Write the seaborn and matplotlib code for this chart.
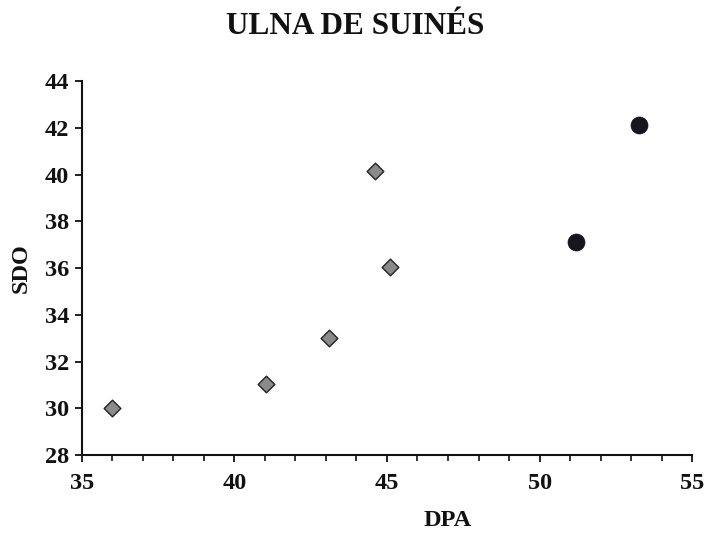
import pandas as pd
import numpy as np
import matplotlib
matplotlib.use('Agg')
import matplotlib.pyplot as plt
from matplotlib.ticker import MultipleLocator
import seaborn as sns

# 数据
dpa_diamond = [36.0, 41.05, 43.1, 44.6, 45.1]
sdo_diamond = [30.0, 31.05, 33.0, 40.15, 36.05]
dpa_circle = [51.2, 53.25]
sdo_circle = [37.1, 42.15]

df_d = pd.DataFrame({'DPA': dpa_diamond, 'SDO': sdo_diamond})
df_c = pd.DataFrame({'DPA': dpa_circle, 'SDO': sdo_circle})

sns.set_style('white')
plt.rcParams['font.family'] = ['Liberation Serif', 'DejaVu Serif']
plt.rcParams['font.weight'] = 'bold'

fig = plt.figure(figsize=(7.1, 5.39), dpi=100)
ax = fig.add_axes([0.115, 0.156, 0.86, 0.693])

sns.scatterplot(data=df_d, x='DPA', y='SDO', marker='D', s=72,
                color='#8a8a8a', edgecolor='#222222', linewidth=1.0, ax=ax, zorder=3)
sns.scatterplot(data=df_c, x='DPA', y='SDO', marker='o', s=150,
                color='#16161f', edgecolor='#16161f', linewidth=0.5, ax=ax, zorder=3)

ax.set_xlim(35, 55)
ax.set_ylim(28, 44)
ax.xaxis.set_major_locator(MultipleLocator(5))
ax.xaxis.set_minor_locator(MultipleLocator(1))
ax.yaxis.set_major_locator(MultipleLocator(2))

for side in ['top', 'right']:
    ax.spines[side].set_visible(False)
for side in ['left', 'bottom']:
    ax.spines[side].set_linewidth(1.5)
    ax.spines[side].set_color('#111111')

ax.tick_params(axis='both', which='major', direction='out', length=5, width=1.3,
               labelsize=17.5, colors='#111111', pad=4)
ax.tick_params(axis='x', which='minor', direction='out', length=4, width=1.2,
               colors='#111111', bottom=True)
ax.tick_params(axis='x', which='major', pad=8, bottom=True)
ax.tick_params(axis='y', which='major', left=True)
for lbl in ax.get_xticklabels() + ax.get_yticklabels():
    lbl.set_fontweight('bold')

ax.set_xlabel('DPA', fontsize=17.5, fontweight='bold', color='#111111')
ax.set_ylabel('SDO', fontsize=17.5, fontweight='bold', color='#111111')
ax.xaxis.set_label_coords(0.599, -0.147)
ax.yaxis.set_label_coords(-0.082, 0.5)

fig.text(0.5, 0.95, 'ULNA DE SUINÉS', ha='center', va='center',
         fontsize=22.5, fontweight='bold', color='#111111')

fig.savefig('out.png', dpi=100)
